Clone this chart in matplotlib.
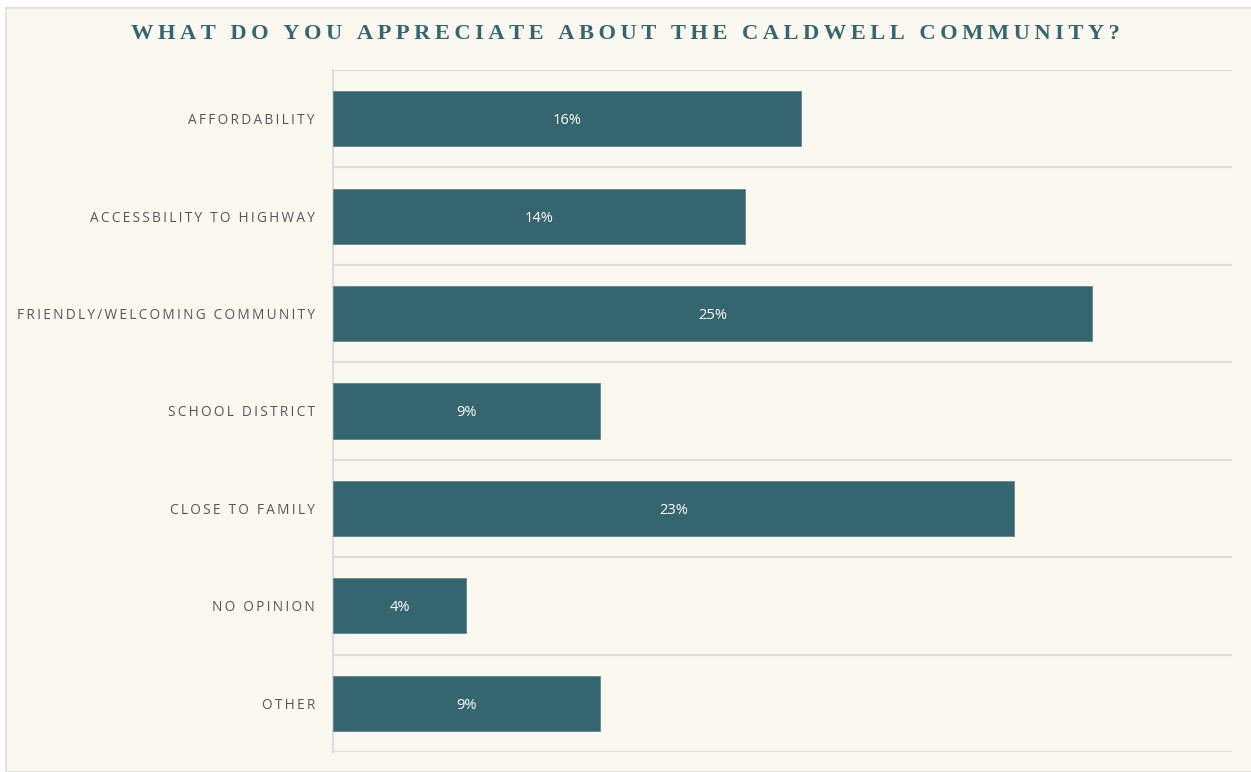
import numpy as np
import matplotlib
matplotlib.use("Agg")
from matplotlib import pyplot as plt
from matplotlib.patches import Rectangle

# survey answers, top to bottom
categories = ["AFFORDABILITY", "ACCESSBILITY TO HIGHWAY", "FRIENDLY/WELCOMING COMMUNITY",
              "SCHOOL DISTRICT", "CLOSE TO FAMILY", "NO OPINION", "OTHER"]
# share of answers
shares = [15.67, 13.79, 25.41, 8.94, 22.80, 4.45, 8.94]
labels = ["16%", "14%", "25%", "9%", "23%", "4%", "9%"]

title = "WHAT DO YOU APPRECIATE ABOUT THE CALDWELL COMMUNITY?"

bg = "#fbf8f0"
bar_col = "#35656f"
grid_col = "#dedede"


def spaced(s, sep="\u2009"):
    # fake letter spacing
    return sep.join(list(s))


fig = plt.figure(figsize=(12.51, 7.72), dpi=100, facecolor="white")
# cream panel with light border on top/left
fig.patches.append(Rectangle((6 / 1251, 0), 1.1, 1 - 8 / 772, transform=fig.transFigure,
                             facecolor=bg, edgecolor="#e2e2e2", linewidth=1.5, zorder=-5))

ax = fig.add_axes([333 / 1251, 20 / 772, 899 / 1251, 682 / 772])
ax.set_zorder(2)
ax.patch.set_alpha(0)

y = np.arange(len(categories))
ax.barh(y, shares, height=0.565, color=bar_col, edgecolor="#5f8790", linewidth=0.6, zorder=3)

for yi, v, lab in zip(y, shares, labels):
    ax.text(v / 2, yi, lab, ha="center", va="center_baseline", color="white", fontsize=10.5,
            family=["Open Sans", "DejaVu Sans"], zorder=4)

ax.set_xlim(0, 30.1)
ax.set_ylim(len(categories) - 0.5, -0.5)
ax.set_yticks(y)
ax.set_yticklabels([spaced(c) for c in categories], family=["Open Sans", "DejaVu Sans"],
                   fontsize=9.8, color="#555555")
ax.tick_params(axis="y", length=0, pad=13)
ax.set_xticks([])

for b in np.arange(-0.5, len(categories), 1.0):
    ax.axhline(b, color=grid_col, linewidth=1.5, zorder=1)

for s in ["top", "right", "bottom"]:
    ax.spines[s].set_visible(False)
ax.spines["left"].set_color(grid_col)
ax.spines["left"].set_linewidth(1.5)

fig.text(0.5, 1 - 34 / 772, spaced(title), ha="center", va="center",
         family=["Liberation Serif", "DejaVu Serif"], fontweight="bold", fontsize=16.2,
         color=bar_col, zorder=5)

fig.savefig("out.png", dpi=100, facecolor="white")
